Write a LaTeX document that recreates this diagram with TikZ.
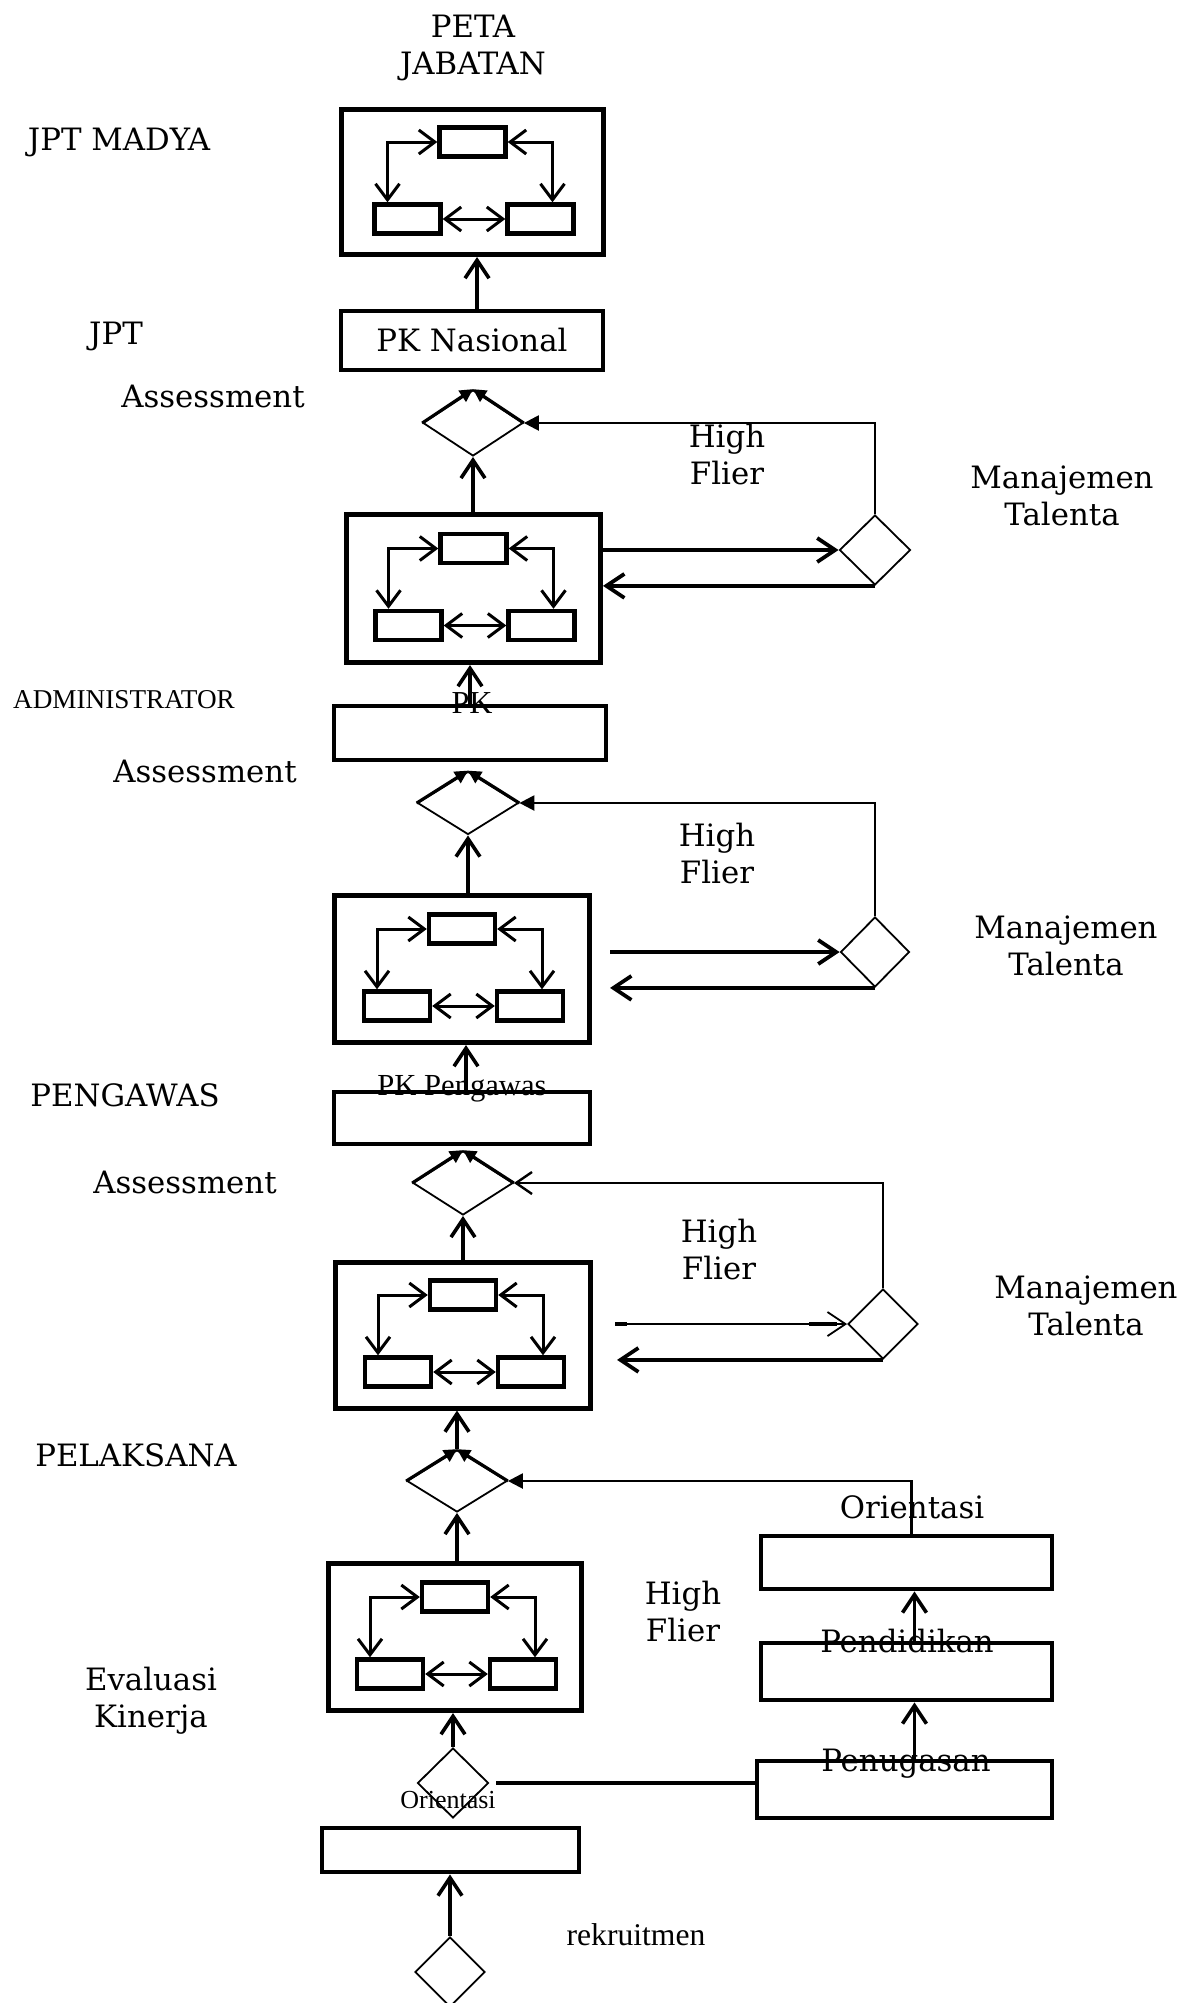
\documentclass[tikz,border=0pt]{standalone}
\usepackage{fontspec}
\setmainfont{DejaVu Serif}
\newfontfamily\tmsfont{Liberation Serif}
\usetikzlibrary{arrows.meta,shapes.geometric,calc}

\tikzset{
  mapbox/.style={draw, line width=2.5pt, inner sep=0pt},
  subbox/.style={draw, line width=2.2pt, minimum width=33pt, minimum height=14.5pt, inner sep=0pt},
  pkbox/.style={draw, line width=2.4pt, inner sep=0pt},
  choice/.style={draw, diamond, line width=0.9pt, inner sep=0pt},
  inlink/.style={line width=1.5pt, {Straight Barb[length=8pt,width=12pt]}-{Straight Barb[length=8pt,width=12pt]}},
  uplink/.style={line width=1.8pt, -{Straight Barb[length=9pt,width=12pt]}},
  apexarrow/.style={line width=1.5pt, -{Triangle[length=6.5pt,width=6.5pt]}},
  outlink/.style={line width=1.9pt, -{Straight Barb[length=9pt,width=12pt]}},
  fback/.style={line width=1.2pt},
  filledtip/.style={-{Triangle[length=7.5pt,width=7.5pt]}},
  opentip/.style={-{Straight Barb[length=8pt,width=11pt]}},
  lbl/.style={align=center, inner sep=0pt, text height=11.2pt, text depth=0pt},
  lbltwo/.style={align=center, inner sep=0pt, text height=29.9pt, text depth=0pt},
  tlbl/.style={align=center, inner sep=0pt, text depth=0pt},
}

% a job map: outer frame with three linked position boxes
% #1 name, #2 x, #3 y, #4 width, #5 height
\newcommand\jobmap[5]{%
  \node[mapbox, minimum width=#4, minimum height=#5] (#1) at (#2,#3) {};
  \node[subbox] (#1-t) at ($(#1)+(0,-40)$) {};
  \node[subbox] (#1-l) at ($(#1)+(-65,37)$) {};
  \node[subbox] (#1-r) at ($(#1)+(68,37)$) {};
  \draw[inlink] ([xshift=-10pt]#1-l.north) |- (#1-t.west);
  \draw[inlink] (#1-t.east) -| ([xshift=6pt]#1-r.north);
  \draw[inlink] (#1-l.east) -- (#1-r.west);
}

\begin{document}
\begin{tikzpicture}[x=0.5pt, y=-0.5pt, font=\fontsize{15.4}{18.7}\selectfont]
\useasboundingbox (0,0) rectangle (1195,2003);

% ---------- main column ----------
\node[lbltwo] (title) at (473,45) {PETA\\JABATAN};
\jobmap{m1}{472.5}{182}{131pt}{72.5pt}
\node[pkbox, minimum width=131pt, minimum height=29.5pt] (pkn) at (472,340.5) {PK Nasional};
\node[choice, minimum width=50pt, minimum height=33pt] (d1) at (473,423) {};
\jobmap{m2}{473.5}{588.5}{127pt}{74pt}
\node[pkbox, minimum width=136pt, minimum height=27pt] (pka) at (470,733) {};
\node[choice, minimum width=50.5pt, minimum height=31.5pt] (d2) at (468,803) {};
\jobmap{m3}{462}{969}{127.5pt}{73.5pt}
\node[pkbox, minimum width=128pt, minimum height=26pt] (pkp) at (462,1118) {};
\node[choice, minimum width=50pt, minimum height=32pt] (d3) at (463,1183) {};
\jobmap{m4}{463}{1335}{127.5pt}{73pt}
\node[choice, minimum width=50pt, minimum height=31pt] (d4) at (457,1481) {};
\jobmap{m5}{455}{1637}{126.5pt}{73.5pt}
\node[choice, minimum width=35.5pt, minimum height=35pt] (d5) at (453,1783) {};
\node[pkbox, minimum width=128.5pt, minimum height=22pt] (rec) at (450.5,1850) {};
\node[choice, minimum width=35pt, minimum height=35pt] (d6) at (450,1972) {};

% diamonds feeding the level above
\foreach \d in {d1,d2,d3,d4}{
  \draw[apexarrow] (\d.west) -- (\d.north);
  \draw[apexarrow] (\d.east) -- (\d.north);
}

% upward flow
\draw[uplink] ([xshift=2.5pt]pkn.north) -- ([xshift=2.5pt]pkn.north |- m1.south);
\draw[uplink] (d1.south |- m2.north) -- (d1.south);
\draw[uplink] (pka.north) -- (pka.north |- m2.south);
\draw[uplink] (d2.south |- m3.north) -- (d2.south);
\draw[uplink] ([xshift=2pt]pkp.north) -- ([xshift=2pt]pkp.north |- m3.south);
\draw[uplink] (d3.south |- m4.north) -- (d3.south);
\draw[uplink] (d4.north) -- (d4.north |- m4.south);
\draw[uplink] (d4.south |- m5.north) -- (d4.south);
\draw[uplink] (d5.north) -- (d5.north |- m5.south);
\draw[uplink] (d6.north) -- (d6.north |- rec.south);

% ---------- talent management loops ----------
\node[choice, minimum width=35.5pt, minimum height=35pt] (t1) at (875,550) {};
\node[choice, minimum width=34.5pt, minimum height=35pt] (t2) at (875,952) {};
\node[choice, minimum width=35pt, minimum height=35pt] (t3) at (883,1324) {};

\draw[outlink] (m2.east |- t1.west) -- (t1.west);
\draw[outlink] (t1.south) -- (t1.south -| m2.east);
\draw[fback, filledtip] (t1.north) |- (d1.east);

\draw[outlink] ([xshift=9pt]m3.east |- t2.west) -- (t2.west);
\draw[outlink] (t2.south) -- ([xshift=9pt]t2.south -| m3.east);
\draw[fback, filledtip] (t2.north) |- (d2.east);

\coordinate (o3) at ([xshift=11pt]m4.east |- t3.west);
\draw[line width=0.9pt, -{Straight Barb[length=9pt,width=12pt]}] (o3) -- (t3.west);
\draw[line width=2.2pt] (o3) -- ++(12,0);
\draw[line width=1.9pt] ($(t3.west)+(-38,0)$) -- ($(t3.west)+(-10,0)$);
\draw[outlink] (t3.south) -- ([xshift=12pt]t3.south -| m4.east);
\draw[fback, opentip] (t3.north) |- (d3.east);

% ---------- entry path ----------
\node[pkbox, minimum width=145.5pt, minimum height=26.5pt] (ori) at (906.5,1562.5) {};
\node[pkbox, minimum width=145.5pt, minimum height=28.5pt] (edu) at (906.5,1671.5) {};
\node[pkbox, minimum width=147.5pt, minimum height=28.5pt] (asg) at (904.5,1789.5) {};
\draw[uplink] ([xshift=4pt]edu.north) -- ([xshift=4pt]edu.north |- ori.south);
\draw[uplink] ([xshift=5pt]asg.north) -- ([xshift=5pt]asg.north |- edu.south);
\draw[fback, filledtip] ([xshift=2.5pt]ori.north) |- (d4.east);
\draw[line width=1.6pt] ([xshift=3.5pt]d5.east) -- (d5.east -| asg.west);

% ---------- labels ----------
\node[lbl] (l1) at (119,139) {JPT MADYA};
\node[lbl] (l2) at (116,333) {JPT};
\node[lbl] (as1) at (213,396) {Assessment};
\node[lbltwo] (hf1) at (727,455) {High\\Flier};
\node[lbltwo] (mt1) at (1062,496) {Manajemen\\Talenta};
\node[tlbl, text height=9pt, font=\tmsfont\fontsize{13.6}{15}\selectfont] (l3) at (124,699) {ADMINISTRATOR};
\node[tlbl, text height=10.6pt, font=\tmsfont\fontsize{16}{18}\selectfont] (pkl) at (472,703) {PK};
\node[lbl] (as2) at (205,771) {Assessment};
\node[lbltwo] (hf2) at (717,854) {High\\Flier};
\node[lbltwo] (mt2) at (1066,946) {Manajemen\\Talenta};
\node[lbl] (l4) at (125,1095) {PENGAWAS};
\node[tlbl, text height=10.1pt, font=\tmsfont\fontsize{15.3}{18}\selectfont] (pkpl) at (462,1085) {PK Pengawas};
\node[lbl] (as3) at (185,1182) {Assessment};
\node[lbltwo] (hf3) at (719,1250) {High\\Flier};
\node[lbltwo] (mt3) at (1086,1306) {Manajemen\\Talenta};
\node[lbl] (l5) at (136,1455) {PELAKSANA};
\node[lbl] (oril) at (912,1507) {Orientasi};
\node[lbltwo] (hf4) at (683,1612) {High\\Flier};
\node[lbl] (edul) at (907,1641) {Pendidikan};
\node[lbltwo] (ek) at (151,1698) {Evaluasi\\Kinerja};
\node[lbl] (asgl) at (906,1760) {Penugasan};
\node[tlbl, text height=8.6pt, font=\tmsfont\fontsize{13}{15}\selectfont] (or2) at (448,1800) {Orientasi};
\node[tlbl, text height=10.7pt, font=\tmsfont\fontsize{15.8}{18}\selectfont] (rk) at (636,1935) {rekruitmen};
\end{tikzpicture}
\end{document}
